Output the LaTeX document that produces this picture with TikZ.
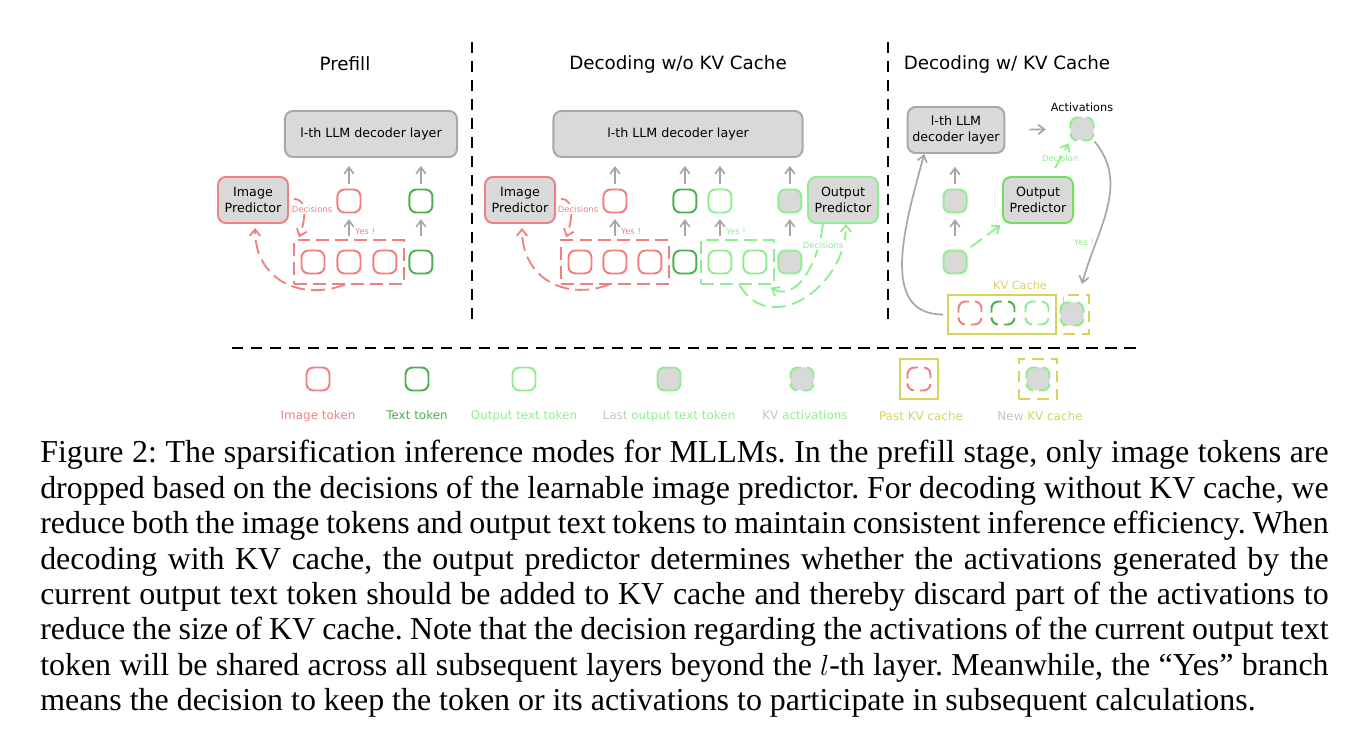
\documentclass[tikz,border=0pt]{standalone}
\usepackage{fontspec}
\setmainfont{Liberation Serif}
\newfontfamily\sketchfont{DejaVu Sans}
\usepackage{tikz}
\usetikzlibrary{arrows.meta, positioning, fit}

\definecolor{imgred}{HTML}{F08080}
\definecolor{txtgreen}{HTML}{4CAF50}
\definecolor{outgreen}{HTML}{90EE90}
\definecolor{predgreen}{HTML}{6EE05A}
\definecolor{cacheyel}{HTML}{D6D25A}
\definecolor{boxgray}{HTML}{D9D9D9}
\definecolor{edgegray}{HTML}{A8A8A8}
\definecolor{arrgray}{HTML}{A6A6A6}
\definecolor{fadegray}{HTML}{C4C4C4}

% token drawn only at its corners (cached keys/values)
\newcommand{\cachetok}[2][]{%
  \draw[ctok, #1] (#2) ++(-11.5,0) -- ++(0,11.5) -- ++(23,0) -- ++(0,-23) -- ++(-23,0) -- cycle;}

\begin{document}
\begin{tikzpicture}[
    x=0.025cm, y=0.025cm,
    every node/.style={font=\sketchfont},
    paneltitle/.style={font=\sketchfont\fontsize{13}{15}\selectfont},
    tok/.style={draw, line width=1.4pt, rounded corners=1.75mm, minimum size=5.75mm, inner sep=0pt},
    imgtok/.style={tok, draw=imgred},
    txttok/.style={tok, draw=txtgreen},
    outtok/.style={tok, draw=outgreen},
    lasttok/.style={tok, draw=outgreen, fill=boxgray},
    ctok/.style={line width=1.4pt, rounded corners=1.75mm, dash pattern=on 9.95pt off 4.27pt, dash phase=12.1pt},
    declayer/.style={draw=edgegray, fill=boxgray, line width=1.4pt, rounded corners=2mm, minimum height=11.5mm, align=center, font=\sketchfont\fontsize{9}{11}\selectfont},
    pred/.style={declayer, minimum width=17.5mm, inner sep=1pt},
    upar/.style={-{Straight Barb[length=1.6mm, width=2.4mm]}, line width=1.2pt, draw=arrgray},
    tolayer/.style={upar, shorten <=1.1mm, shorten >=2mm},
    totok/.style={upar, shorten <=3.4mm, shorten >=1.4mm},
    dashar/.style={-{Straight Barb[length=1.6mm, width=2.6mm]}, line width=1.3pt, dash pattern=on 10pt off 4.5pt},
    imgdash/.style={dashar, draw=imgred},
    outdash/.style={dashar, draw=outgreen},
    imgbox/.style={draw=imgred, line width=1.4pt, dash pattern=on 9pt off 4.5pt, inner xsep=1.6mm, inner ysep=2.3mm},
    outbox/.style={draw=outgreen, line width=1.4pt, dash pattern=on 9pt off 4.5pt, inner xsep=1.6mm, inner ysep=2.3mm},
    smalltxt/.style={font=\sketchfont\fontsize{6}{7}\selectfont, inner sep=1pt},
    legtext/.style={font=\sketchfont\fontsize{8.5}{10}\selectfont},
    divider/.style={line width=1.8pt, dash pattern=on 8pt off 5.5pt},
  ]
  \useasboundingbox (0,0) rectangle (1360,-740);

  % ---------- Prefill ----------
  \node[paneltitle] (title1) at (345,-64) {Prefill};
  \node[declayer, minimum width=43mm] (dec1) at (371,-134) {l-th LLM decoder layer};
  \node[pred, draw=imgred] (ip1) at (253,-200) {Image\\Predictor};
  \node[imgtok] (b1) at (313,-262) {};
  \node[imgtok, right=2.75mm of b1] (b2) {};
  \node[imgtok, right=2.75mm of b2] (b3) {};
  \node[txttok, right=2.75mm of b3] (b4) {};
  \node[imgtok, above=9mm of b2] (a1) {};
  \node[txttok, above=9mm of b4] (a2) {};
  \node[imgbox, fit=(b1)(b3)] (ib1) {};
  \draw[totok] (b2.north) -- (a1.south) node[midway, right, smalltxt, text=imgred, xshift=1mm] (yes1) {Yes !};
  \draw[totok] (b4.north) -- (a2.south);
  \draw[tolayer] (a1.north) -- (a1.north |- dec1.south);
  \draw[tolayer] (a2.north) -- (a2.north |- dec1.south);
  \draw[imgdash] ([xshift=1.25mm, yshift=0.25mm]ip1.east) to[out=0, in=70] ([xshift=1.5mm, yshift=0.5mm]ib1.north west);
  \draw[imgdash] ([xshift=-1mm]ib1.south) to[out=200, in=-90, looseness=1.2] ([xshift=0.5mm, yshift=-1mm]ip1.south);
  \node[smalltxt, text=imgred, fill=white] (dec1lbl) at (312,-209) {Decisions};

  % ---------- Decoding w/o KV cache ----------
  \node[paneltitle] (title2) at (678,-64) {Decoding w/o KV Cache};
  \node[declayer, minimum width=62.25mm] (dec2) at (678,-134) {l-th LLM decoder layer};
  \node[pred, draw=imgred] (ip2) at (520,-200) {Image\\Predictor};
  \node[pred, draw=outgreen] (op2) at (843,-200) {Output\\Predictor};
  \node[imgtok] (c1) at (580,-262) {};
  \node[imgtok, right=2.5mm of c1] (c2) {};
  \node[imgtok, right=2.5mm of c2] (c3) {};
  \node[txttok, right=2.5mm of c3] (c4) {};
  \node[outtok, right=2.5mm of c4] (c5) {};
  \node[outtok, right=2.5mm of c5] (c6) {};
  \node[lasttok, right=2.5mm of c6] (c7) {};
  \node[imgtok, above=9mm of c2] (d1) {};
  \node[txttok, above=9mm of c4] (d2) {};
  \node[outtok, above=9mm of c5] (d3) {};
  \node[lasttok, above=9mm of c7] (d4) {};
  \node[imgbox, fit=(c1)(c3)] (ib2) {};
  \node[outbox, fit=(c5)(c6)] (ob2) {};
  \draw[totok] (c2.north) -- (d1.south) node[midway, right, smalltxt, text=imgred, xshift=1mm] (yes2) {Yes !};
  \draw[totok] (c4.north) -- (d2.south);
  \draw[totok] (c5.north) -- (d3.south) node[midway, right, smalltxt, text=outgreen, xshift=1mm] (yes3) {Yes !};
  \draw[totok] (c7.north) -- (d4.south);
  \foreach \t in {d1,d2,d3,d4}
    \draw[tolayer] (\t.north) -- (\t.north |- dec2.south);
  \draw[imgdash] ([xshift=1.25mm, yshift=0.25mm]ip2.east) to[out=0, in=70] ([xshift=1.5mm, yshift=0.5mm]ib2.north west);
  \draw[imgdash] ([xshift=-1.5mm]ib2.south) to[out=200, in=-90, looseness=1.2] ([xshift=0.5mm, yshift=-1mm]ip2.south);
  \draw[outdash] (op2.230) to[out=-95, in=-30] ([xshift=-1mm, yshift=-0.75mm]ob2.south east);
  \draw[outdash] ([xshift=0.5mm]ob2.south) to[out=-60, in=-90, looseness=1.3] (op2.-83);
  \node[smalltxt, text=imgred, fill=white] (dec2lbl) at (578,-209) {Decisions};
  \node[smalltxt, text=outgreen, fill=white] (dec3lbl) at (823,-245) {Decisions};

  % ---------- Decoding w/ KV cache ----------
  \node[paneltitle] (title3) at (1007,-64) {Decoding w/ KV Cache};
  \node[declayer, minimum width=24mm] (dec3) at (956,-130) {l-th LLM\\decoder layer};
  \node[pred, draw=predgreen] (op3) at (1038,-200) {Output\\Predictor};
  \node[tok, draw=none] (act) at (1082,-129) {};
  \cachetok[draw=outgreen, fill=boxgray]{1082,-129}
  \node[legtext, font=\sketchfont\fontsize{8}{10}\selectfont, above=0pt of act] (actlbl) {Activations};
  \node[lasttok] (t3b) at (955,-262) {};
  \node[lasttok, above=9mm of t3b] (t3a) {};
  \node[draw=cacheyel, line width=1.4pt, minimum width=27mm, minimum height=9.75mm] (kvc) at (1002,-314.5) {};
  \node[draw=cacheyel, line width=1.4pt, dash pattern=on 8pt off 5pt, minimum width=6.25mm, minimum height=9.75mm] (newc) at (1076,-314.5) {};
  \cachetok[draw=imgred]{970,-313}
  \cachetok[draw=txtgreen]{1003,-313}
  \cachetok[draw=outgreen]{1037,-313}
  \cachetok[draw=outgreen, fill=boxgray]{1072,-314}
  \node[legtext, font=\sketchfont\fontsize{8}{10}\selectfont, text=cacheyel] (kvlbl) at (1020,-285) {KV Cache};
  \draw[totok] (t3b.north) -- (t3a.south);
  \draw[tolayer, shorten >=3.2mm] (t3a.north) -- (t3a.north |- dec3.south);
  \draw[upar, shorten <=6mm, shorten >=5.9mm] (dec3.east) -- (act.west);
  \draw[outdash, shorten <=1mm, shorten >=0.5mm] (t3b.north east) -- (op3.south west);
  \draw[outdash, shorten <=2.25mm, shorten >=0.5mm] (op3.62) -- (act.south west)
    node[midway, smalltxt, text=outgreen] (declbl) {Decision};
  \draw[upar] (act.south east) to[out=-50, in=75] ([xshift=1.5mm, yshift=2.5mm]newc.north);
  \node[smalltxt, text=outgreen] (yes4) at (1084,-242) {Yes !};
  \draw[upar, shorten <=1mm] (kvc.west) to[out=180, in=-105, looseness=1.1] (dec3.217);

  % ---------- separators ----------
  \draw[divider] (472,-42) -- (472,-322);
  \draw[divider] (888,-42) -- (888,-322);
  \draw[divider] (232,-348) -- (1136,-348);

  % ---------- legend ----------
  \node[imgtok] (lg1) at (318,-379) {};
  \node[txttok] (lg2) at (417,-379) {};
  \node[outtok] (lg3) at (524,-379) {};
  \node[lasttok] (lg4) at (669,-379) {};
  \node[tok, draw=none] (lg5) at (802,-379) {};
  \cachetok[draw=outgreen, fill=boxgray]{802,-379}
  \node[draw=cacheyel, line width=1.4pt, minimum width=9.5mm, minimum height=10mm] (lg6) at (919,-379) {};
  \cachetok[draw=imgred]{919,-379}
  \node[draw=cacheyel, line width=1.4pt, dash pattern=on 8pt off 5pt, minimum width=9.5mm, minimum height=10mm] (lg7) at (1038,-379) {};
  \cachetok[draw=outgreen, fill=boxgray]{1038,-379}
  \node[legtext, text=imgred, below=3.6mm of lg1] {Image token};
  \node[legtext, text=txtgreen, below=3.6mm of lg2] {Text token};
  \node[legtext, text=outgreen, below=3.6mm of lg3] {Output text token};
  \node[legtext, text=outgreen, below=3.6mm of lg4] {{\color{fadegray}Last} output text token};
  \node[legtext, text=outgreen, below=3.6mm of lg5, xshift=0.75mm] {{\color{fadegray}KV} activations};
  \node[legtext, text=cacheyel, below=1.5mm of lg6, xshift=0.5mm] {Past KV cache};
  \node[legtext, text=cacheyel, below=1.5mm of lg7, xshift=0.5mm] {{\color{fadegray}New} KV cache};

  % ---------- caption ----------
  \node[anchor=north west, text width=32.2cm, inner sep=0pt, align=justify,
        font=\rmfamily\fontsize{22.7}{25.2}\selectfont] (cap) at (40,-440) {\noindent\frenchspacing
    Figure 2: The sparsification inference modes for MLLMs. In the prefill stage, only image tokens are\linebreak
    dropped based on the decisions of the learnable image predictor. For decoding without KV cache, we\linebreak
    reduce both the image tokens and output text tokens to maintain consistent inference efficiency. When\linebreak
    decoding with KV cache, the output predictor determines whether the activations generated by the\linebreak
    current output text token should be added to KV cache and thereby discard part of the activations to\linebreak
    reduce the size of KV cache. Note that the decision regarding the activations of the current output text\linebreak
    token will be shared across all subsequent layers beyond the $l$-th layer. Meanwhile, the “Yes” branch\linebreak
    means the decision to keep the token or its activations to participate in subsequent calculations.};
\end{tikzpicture}
\end{document}
